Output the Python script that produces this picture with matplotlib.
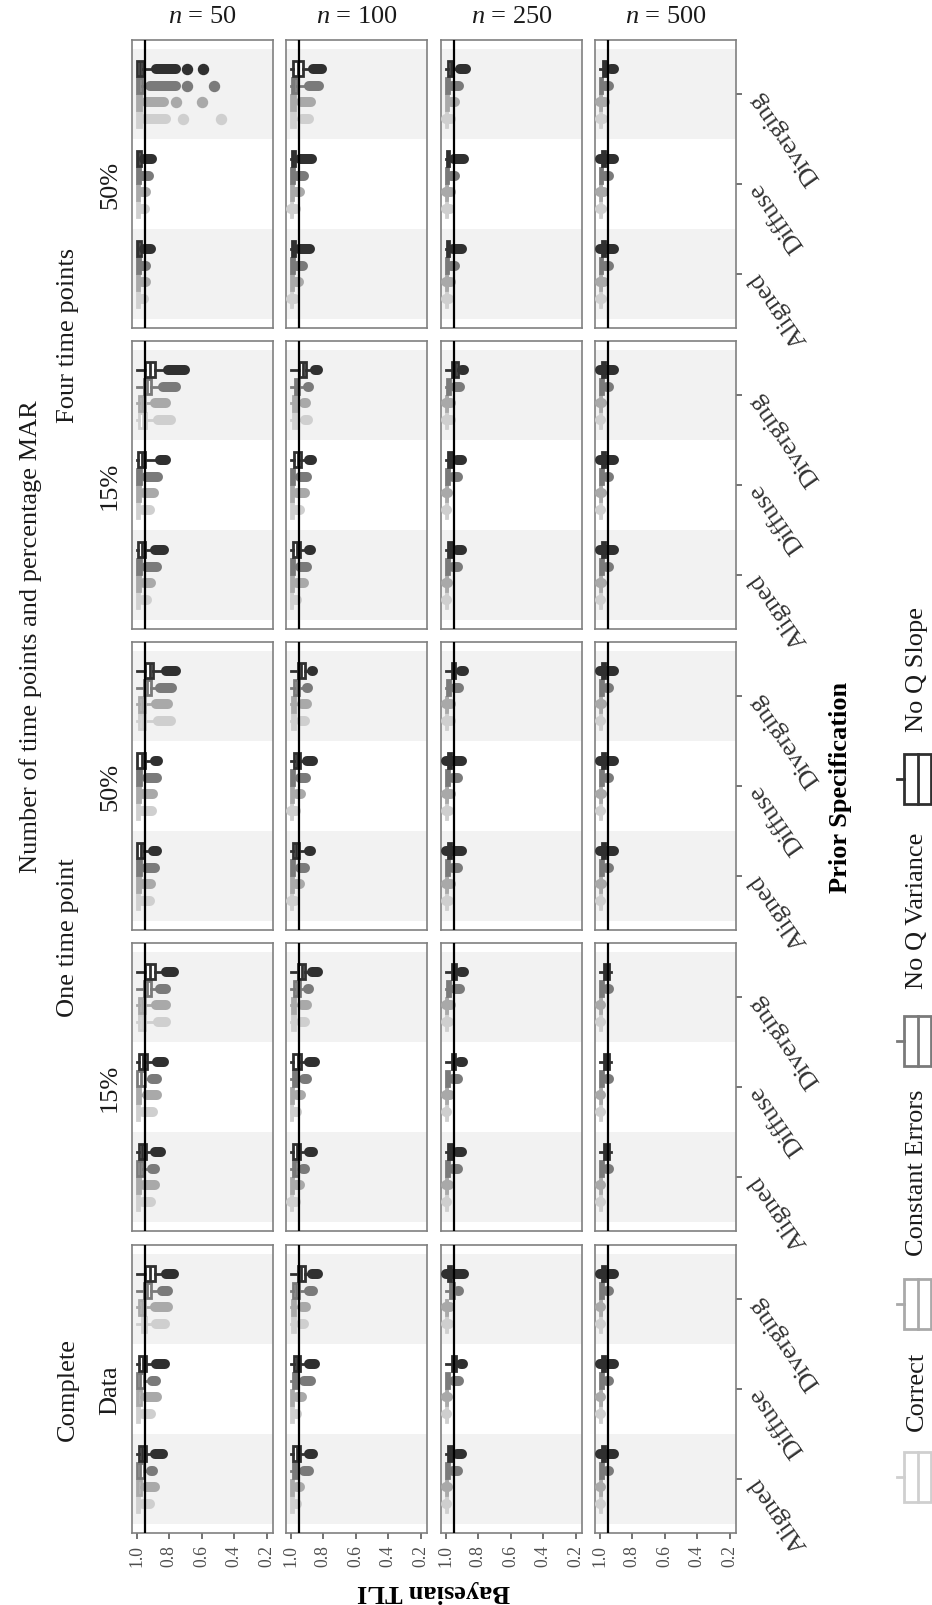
import matplotlib
matplotlib.use('Agg')
import matplotlib.pyplot as plt
from matplotlib.patches import Rectangle

plt.rcParams['font.family'] = ['Liberation Serif', 'DejaVu Serif']
plt.rcParams['mathtext.fontset'] = 'custom'
plt.rcParams['mathtext.rm'] = 'Liberation Serif'
plt.rcParams['mathtext.it'] = 'Liberation Serif:italic'

W, H = 932, 1606

# facets: rows top -> bottom, columns left -> right
CONDITIONS = ['four50', 'four15', 'one50', 'one15', 'complete']
N_VALUES = [50, 100, 250, 500]
PRIORS = ['Aligned', 'Diffuse', 'Diverging']
MODELS = ['Correct', 'Constant Errors', 'No Q Variance', 'No Q Slope']
MODEL_COLORS = ['#cfcfcf', '#a9a9a9', '#7a7a7a', '#303030']
TLI_CUTOFF = 0.95
WHISKER_TOP = 0.999
X_TICKS = [1.0, 0.8, 0.6, 0.4, 0.2]

# each box: (q3, median, q1, lower whisker, outlier run start, outlier run end)
# per panel: [Aligned, Diffuse, Diverging] x [Correct, Const Err, No Q Var, No Q Slope]
four50 = {
    50: [[(0.998, 0.994, 0.988, 0.978, 0.970, 0.955), (0.998, 0.994, 0.985, 0.975, 0.968, 0.945),
          (0.998, 0.992, 0.982, 0.972, 0.965, 0.940), (0.998, 0.990, 0.975, 0.965, 0.958, 0.910)],
         [(0.998, 0.994, 0.988, 0.978, 0.970, 0.950), (0.998, 0.994, 0.985, 0.975, 0.968, 0.945),
          (0.998, 0.992, 0.982, 0.972, 0.965, 0.927), (0.998, 0.990, 0.975, 0.965, 0.958, 0.905)],
         [(0.998, 0.988, 0.975, 0.960, 0.950, 0.820), (0.998, 0.988, 0.975, 0.955, 0.940, 0.830),
          (0.998, 0.985, 0.970, 0.935, 0.917, 0.756), (0.998, 0.980, 0.960, 0.905, 0.880, 0.756)]],
    100: [[(0.998, 0.994, 0.990, 0.985, 0.998, 0.975), (0.998, 0.994, 0.985, 0.975, 0.968, 0.946),
           (0.998, 0.992, 0.982, 0.972, 0.962, 0.924), (0.992, 0.985, 0.975, 0.965, 0.950, 0.880)],
          [(0.998, 0.994, 0.990, 0.985, 0.998, 0.970), (0.998, 0.994, 0.985, 0.975, 0.968, 0.944),
           (0.998, 0.992, 0.982, 0.972, 0.962, 0.920), (0.992, 0.985, 0.975, 0.965, 0.940, 0.870)],
          [(0.998, 0.988, 0.975, 0.960, 0.930, 0.885), (0.998, 0.986, 0.972, 0.955, 0.937, 0.873),
           (0.995, 0.980, 0.960, 0.910, 0.885, 0.825), (0.983, 0.955, 0.927, 0.875, 0.860, 0.805)]],
    250: [[(0.998, 0.994, 0.990, 0.985, 0.998, 0.980), (0.998, 0.994, 0.990, 0.985, 0.998, 0.970),
           (0.998, 0.992, 0.985, 0.975, 0.965, 0.940), (0.990, 0.985, 0.978, 0.970, 0.955, 0.900)],
          [(0.998, 0.994, 0.990, 0.985, 0.998, 0.975), (0.998, 0.994, 0.990, 0.985, 0.998, 0.970),
           (0.998, 0.992, 0.985, 0.975, 0.965, 0.940), (0.990, 0.985, 0.978, 0.970, 0.950, 0.890)],
          [(0.998, 0.994, 0.990, 0.985, 0.998, 0.970), (0.998, 0.992, 0.985, 0.975, 0.965, 0.944),
           (0.998, 0.990, 0.980, 0.970, 0.960, 0.920), (0.985, 0.970, 0.955, 0.940, 0.915, 0.876)]],
    500: [[(0.998, 0.994, 0.990, 0.985, 0.998, 0.985), (0.998, 0.994, 0.990, 0.985, 0.998, 0.975),
           (0.998, 0.992, 0.985, 0.975, 0.965, 0.945), (0.985, 0.975, 0.965, 0.955, 1.000, 0.910)],
          [(0.998, 0.994, 0.990, 0.985, 0.998, 0.985), (0.998, 0.994, 0.990, 0.985, 0.998, 0.975),
           (0.998, 0.992, 0.985, 0.975, 0.965, 0.945), (0.985, 0.975, 0.965, 0.955, 1.000, 0.910)],
          [(0.998, 0.994, 0.990, 0.985, 0.998, 0.980), (0.998, 0.994, 0.990, 0.985, 0.998, 0.970),
           (0.998, 0.992, 0.985, 0.975, 0.965, 0.940), (0.980, 0.970, 0.960, 0.950, 0.930, 0.910)]],
}

four15 = {
    50: [[(0.998, 0.994, 0.985, 0.975, 0.962, 0.935), (0.998, 0.994, 0.982, 0.970, 0.955, 0.910),
          (0.996, 0.985, 0.975, 0.962, 0.945, 0.878), (0.995, 0.970, 0.946, 0.910, 0.885, 0.834)],
         [(0.998, 0.994, 0.985, 0.975, 0.962, 0.920), (0.998, 0.994, 0.982, 0.970, 0.955, 0.895),
          (0.996, 0.985, 0.975, 0.962, 0.945, 0.870), (0.995, 0.970, 0.946, 0.885, 0.856, 0.817)],
         [(0.983, 0.960, 0.940, 0.900, 0.870, 0.790), (0.983, 0.965, 0.946, 0.905, 0.885, 0.817),
          (0.958, 0.935, 0.910, 0.860, 0.837, 0.756), (0.946, 0.920, 0.890, 0.837, 0.807, 0.700)]],
    100: [[(0.998, 0.994, 0.990, 0.982, 0.975, 0.960), (0.998, 0.994, 0.985, 0.975, 0.962, 0.920),
           (0.996, 0.988, 0.978, 0.965, 0.945, 0.900), (0.983, 0.960, 0.940, 0.900, 0.885, 0.873)],
          [(0.998, 0.994, 0.988, 0.978, 0.970, 0.940), (0.998, 0.994, 0.985, 0.975, 0.960, 0.915),
           (0.996, 0.988, 0.978, 0.965, 0.940, 0.900), (0.978, 0.955, 0.934, 0.900, 0.885, 0.870)],
          [(0.988, 0.975, 0.960, 0.930, 0.910, 0.895), (0.988, 0.975, 0.960, 0.935, 0.920, 0.907),
           (0.976, 0.960, 0.946, 0.915, 0.895, 0.885), (0.946, 0.925, 0.905, 0.870, 0.850, 0.835)]],
    250: [[(0.998, 0.995, 0.992, 0.990, 0.998, 0.990), (0.998, 0.994, 0.990, 0.985, 0.998, 0.985),
           (0.998, 0.990, 0.980, 0.970, 0.955, 0.925), (0.985, 0.972, 0.960, 0.945, 0.930, 0.900)],
          [(0.998, 0.995, 0.992, 0.990, 0.998, 0.990), (0.998, 0.994, 0.990, 0.985, 0.998, 0.985),
           (0.998, 0.990, 0.980, 0.970, 0.955, 0.925), (0.985, 0.972, 0.960, 0.945, 0.930, 0.900)],
          [(0.998, 0.994, 0.990, 0.985, 0.998, 0.970), (0.998, 0.994, 0.990, 0.985, 0.998, 0.965),
           (0.995, 0.985, 0.975, 0.960, 0.945, 0.915), (0.960, 0.945, 0.927, 0.910, 0.900, 0.890)]],
    500: [[(0.998, 0.995, 0.992, 0.990, 0.998, 0.990), (0.998, 0.994, 0.990, 0.985, 0.998, 0.985),
           (0.998, 0.990, 0.980, 0.970, 0.955, 0.940), (0.985, 0.975, 0.965, 0.955, 1.000, 0.910)],
          [(0.998, 0.995, 0.992, 0.990, 0.998, 0.990), (0.998, 0.994, 0.990, 0.985, 0.998, 0.985),
           (0.998, 0.990, 0.980, 0.970, 0.955, 0.940), (0.985, 0.975, 0.965, 0.955, 1.000, 0.910)],
          [(0.998, 0.995, 0.992, 0.990, 0.998, 0.990), (0.998, 0.994, 0.990, 0.985, 0.998, 0.985),
           (0.998, 0.990, 0.980, 0.970, 0.955, 0.940), (0.985, 0.975, 0.965, 0.955, 1.000, 0.910)]],
}

one50 = {
    50: [[(0.998, 0.994, 0.985, 0.975, 0.965, 0.920), (0.998, 0.994, 0.982, 0.970, 0.960, 0.910),
          (0.996, 0.988, 0.975, 0.962, 0.945, 0.885), (0.996, 0.975, 0.954, 0.920, 0.900, 0.875)],
         [(0.998, 0.994, 0.985, 0.975, 0.965, 0.905), (0.998, 0.994, 0.982, 0.970, 0.960, 0.900),
          (0.996, 0.988, 0.975, 0.960, 0.935, 0.873), (0.996, 0.970, 0.946, 0.910, 0.890, 0.870)],
         [(0.983, 0.965, 0.946, 0.900, 0.870, 0.790), (0.983, 0.965, 0.946, 0.905, 0.880, 0.810),
          (0.958, 0.935, 0.915, 0.870, 0.856, 0.780), (0.946, 0.920, 0.897, 0.850, 0.820, 0.756)]],
    100: [[(0.998, 0.994, 0.990, 0.985, 0.998, 0.975), (0.998, 0.994, 0.985, 0.975, 0.965, 0.940),
           (0.998, 0.990, 0.980, 0.965, 0.945, 0.914), (0.983, 0.965, 0.946, 0.910, 0.890, 0.873)],
          [(0.998, 0.994, 0.990, 0.985, 0.998, 0.970), (0.998, 0.994, 0.985, 0.975, 0.962, 0.935),
           (0.998, 0.990, 0.980, 0.965, 0.940, 0.907), (0.978, 0.960, 0.940, 0.910, 0.897, 0.865)],
          [(0.995, 0.985, 0.972, 0.955, 0.935, 0.910), (0.995, 0.985, 0.972, 0.955, 0.930, 0.900),
           (0.978, 0.962, 0.946, 0.915, 0.900, 0.895), (0.954, 0.935, 0.915, 0.885, 0.870, 0.863)]],
    250: [[(0.998, 0.994, 0.990, 0.985, 0.998, 0.980), (0.998, 0.994, 0.990, 0.985, 0.998, 0.970),
           (0.998, 0.990, 0.980, 0.970, 0.955, 0.925), (0.985, 0.975, 0.965, 0.955, 1.000, 0.900)],
          [(0.998, 0.994, 0.990, 0.985, 0.998, 0.980), (0.998, 0.994, 0.990, 0.985, 0.998, 0.970),
           (0.998, 0.990, 0.980, 0.970, 0.955, 0.925), (0.985, 0.975, 0.965, 0.955, 1.000, 0.900)],
          [(0.998, 0.994, 0.990, 0.985, 0.998, 0.970), (0.998, 0.994, 0.990, 0.985, 0.998, 0.965),
           (0.995, 0.985, 0.975, 0.960, 0.945, 0.920), (0.963, 0.952, 0.940, 0.925, 0.905, 0.890)]],
    500: [[(0.998, 0.995, 0.992, 0.990, 0.998, 0.990), (0.998, 0.994, 0.990, 0.985, 0.998, 0.985),
           (0.998, 0.990, 0.980, 0.970, 0.955, 0.945), (0.985, 0.975, 0.965, 0.955, 1.000, 0.910)],
          [(0.998, 0.995, 0.992, 0.990, 0.998, 0.990), (0.998, 0.994, 0.990, 0.985, 0.998, 0.985),
           (0.998, 0.990, 0.980, 0.970, 0.955, 0.945), (0.985, 0.975, 0.965, 0.955, 1.000, 0.910)],
          [(0.998, 0.995, 0.992, 0.990, 0.998, 0.990), (0.998, 0.994, 0.990, 0.985, 0.998, 0.985),
           (0.998, 0.990, 0.980, 0.970, 0.955, 0.945), (0.985, 0.975, 0.965, 0.955, 1.000, 0.910)]],
}

one15 = {
    50: [[(0.998, 0.994, 0.985, 0.975, 0.962, 0.915), (0.998, 0.994, 0.982, 0.970, 0.955, 0.890),
          (0.996, 0.980, 0.960, 0.930, 0.905, 0.885), (0.988, 0.965, 0.940, 0.900, 0.885, 0.850)],
         [(0.998, 0.994, 0.985, 0.975, 0.962, 0.900), (0.998, 0.994, 0.982, 0.970, 0.935, 0.878),
          (0.996, 0.975, 0.950, 0.925, 0.905, 0.873), (0.988, 0.960, 0.934, 0.905, 0.875, 0.830)],
         [(0.983, 0.965, 0.946, 0.900, 0.870, 0.817), (0.983, 0.965, 0.946, 0.905, 0.880, 0.822),
          (0.954, 0.935, 0.915, 0.870, 0.856, 0.822), (0.950, 0.920, 0.890, 0.850, 0.820, 0.770)]],
    100: [[(0.998, 0.994, 0.990, 0.985, 0.998, 0.970), (0.998, 0.994, 0.985, 0.975, 0.965, 0.940),
           (0.988, 0.972, 0.954, 0.935, 0.925, 0.915), (0.983, 0.960, 0.940, 0.905, 0.890, 0.860)],
          [(0.998, 0.994, 0.990, 0.982, 0.975, 0.960), (0.998, 0.994, 0.985, 0.975, 0.962, 0.935),
           (0.988, 0.975, 0.960, 0.935, 0.917, 0.900), (0.983, 0.958, 0.934, 0.905, 0.890, 0.850)],
          [(0.995, 0.985, 0.972, 0.955, 0.935, 0.910), (0.995, 0.985, 0.972, 0.955, 0.930, 0.900),
           (0.978, 0.960, 0.944, 0.910, 0.895, 0.885), (0.954, 0.930, 0.910, 0.880, 0.866, 0.830)]],
    250: [[(0.998, 0.995, 0.992, 0.990, 0.998, 0.990), (0.998, 0.994, 0.990, 0.985, 0.998, 0.980),
           (0.998, 0.990, 0.980, 0.970, 0.955, 0.925), (0.985, 0.972, 0.960, 0.945, 0.930, 0.900)],
          [(0.998, 0.995, 0.992, 0.990, 0.998, 0.990), (0.998, 0.994, 0.990, 0.985, 0.998, 0.975),
           (0.998, 0.990, 0.980, 0.970, 0.955, 0.925), (0.963, 0.952, 0.940, 0.925, 0.910, 0.895)],
          [(0.998, 0.994, 0.990, 0.985, 0.998, 0.980), (0.998, 0.994, 0.990, 0.985, 0.998, 0.970),
           (0.995, 0.985, 0.975, 0.960, 0.945, 0.915), (0.963, 0.950, 0.934, 0.920, 0.905, 0.890)]],
    500: [[(0.998, 0.995, 0.992, 0.990, 0.998, 0.990), (0.998, 0.995, 0.992, 0.990, 0.998, 0.990),
           (0.998, 0.990, 0.980, 0.970, 0.955, 0.940), (0.973, 0.960, 0.944, 0.930, 0.915, 0.915)],
          [(0.998, 0.995, 0.992, 0.990, 0.998, 0.990), (0.998, 0.995, 0.992, 0.990, 0.998, 0.990),
           (0.998, 0.990, 0.980, 0.970, 0.955, 0.940), (0.973, 0.960, 0.944, 0.930, 0.915, 0.915)],
          [(0.998, 0.995, 0.992, 0.990, 0.998, 0.990), (0.998, 0.995, 0.992, 0.990, 0.998, 0.990),
           (0.998, 0.990, 0.980, 0.970, 0.955, 0.940), (0.973, 0.960, 0.944, 0.930, 0.915, 0.915)]],
}

complete = {
    50: [[(0.998, 0.994, 0.985, 0.975, 0.960, 0.920), (0.998, 0.990, 0.975, 0.955, 0.940, 0.885),
          (0.996, 0.980, 0.958, 0.930, 0.910, 0.900), (0.988, 0.965, 0.940, 0.910, 0.890, 0.840)],
         [(0.998, 0.994, 0.985, 0.975, 0.960, 0.910), (0.998, 0.990, 0.975, 0.955, 0.940, 0.873),
          (0.996, 0.980, 0.958, 0.930, 0.905, 0.883), (0.983, 0.960, 0.940, 0.910, 0.880, 0.824)],
         [(0.970, 0.955, 0.940, 0.900, 0.880, 0.824), (0.983, 0.965, 0.946, 0.905, 0.885, 0.810),
          (0.954, 0.935, 0.915, 0.870, 0.844, 0.810), (0.946, 0.920, 0.890, 0.850, 0.820, 0.770)]],
    100: [[(0.998, 0.994, 0.988, 0.978, 0.970, 0.960), (0.998, 0.994, 0.985, 0.975, 0.962, 0.940),
           (0.988, 0.975, 0.960, 0.935, 0.917, 0.890), (0.983, 0.960, 0.940, 0.905, 0.890, 0.860)],
          [(0.998, 0.994, 0.988, 0.978, 0.970, 0.960), (0.998, 0.994, 0.985, 0.975, 0.960, 0.930),
           (0.988, 0.975, 0.960, 0.935, 0.917, 0.878), (0.978, 0.960, 0.940, 0.905, 0.890, 0.850)],
          [(0.995, 0.985, 0.972, 0.955, 0.935, 0.920), (0.995, 0.985, 0.972, 0.955, 0.930, 0.905),
           (0.983, 0.965, 0.946, 0.910, 0.890, 0.860), (0.958, 0.935, 0.910, 0.885, 0.870, 0.830)]],
    250: [[(0.998, 0.995, 0.992, 0.990, 0.998, 0.990), (0.998, 0.994, 0.990, 0.985, 0.998, 0.985),
           (0.998, 0.990, 0.980, 0.970, 0.955, 0.925), (0.985, 0.972, 0.960, 0.945, 0.930, 0.900)],
          [(0.998, 0.995, 0.992, 0.990, 0.998, 0.990), (0.998, 0.994, 0.990, 0.985, 0.998, 0.985),
           (0.998, 0.990, 0.980, 0.970, 0.950, 0.920), (0.963, 0.950, 0.934, 0.920, 0.905, 0.895)],
          [(0.998, 0.994, 0.990, 0.985, 0.998, 0.980), (0.998, 0.994, 0.990, 0.985, 0.998, 0.975),
           (0.976, 0.963, 0.950, 0.935, 0.925, 0.920), (0.985, 0.975, 0.965, 0.955, 1.000, 0.890)]],
    500: [[(0.998, 0.996, 0.994, 0.992, 0.998, 0.995), (0.998, 0.995, 0.992, 0.990, 0.998, 0.990),
           (0.998, 0.990, 0.980, 0.970, 0.955, 0.940), (0.985, 0.975, 0.965, 0.955, 1.000, 0.910)],
          [(0.998, 0.996, 0.994, 0.992, 0.998, 0.995), (0.998, 0.995, 0.992, 0.990, 0.998, 0.990),
           (0.998, 0.990, 0.980, 0.970, 0.955, 0.940), (0.985, 0.975, 0.965, 0.955, 1.000, 0.910)],
          [(0.998, 0.996, 0.994, 0.992, 0.998, 0.995), (0.998, 0.995, 0.992, 0.990, 0.998, 0.990),
           (0.998, 0.990, 0.980, 0.970, 0.955, 0.940), (0.985, 0.975, 0.965, 0.955, 1.000, 0.910)]],
}

STATS = {'four50': four50, 'four15': four15, 'one50': one50, 'one15': one15, 'complete': complete}

# isolated far outliers (four time points, 50% MAR, n = 50, Diverging)
EXTRA_OUTLIERS = {
    ('four50', 50, 'Diverging', 'Correct'): [0.715, 0.483],
    ('four50', 50, 'Diverging', 'Constant Errors'): [0.760, 0.600],
    ('four50', 50, 'Diverging', 'No Q Variance'): [0.690, 0.525],
    ('four50', 50, 'Diverging', 'No Q Slope'): [0.690, 0.590],
}

ROW_LABELS = ['50%', '15%', '50%', '15%', 'Data']
GROUP_LABELS = [('Four time points', 0, 1), ('One time point', 2, 3), ('Complete', 4, 4)]
OUTER_LABEL = ('Number of time points and percentage MAR', 0, 3)

# layout, in pixels from top-left
PANEL_LEFT = [132, 286, 441, 595]
PANEL_TOP = [41, 342, 643, 944, 1246]
PANEL_W, PANEL_H = 141, 288
DODGE = [-0.28125, -0.09375, 0.09375, 0.28125]
DOT = 7.2   # point size of the outlier dots
LW = 2.0


def fx(x):
    return x / W


def fy(y):
    return 1 - y / H


fig = plt.figure(figsize=(W / 100, H / 100), dpi=100)

# overlay in pixel coordinates for the strips, titles and legend
ov = fig.add_axes([0, 0, 1, 1])
ov.set_xlim(0, W)
ov.set_ylim(H, 0)
ov.axis('off')

txt = dict(fontsize=19, color='#1a1a1a')

for r, cond in enumerate(CONDITIONS):
    for c, n in enumerate(N_VALUES):
        left, top = PANEL_LEFT[c], PANEL_TOP[r]
        ax = fig.add_axes([fx(left), fy(top + PANEL_H), PANEL_W / W, PANEL_H / H])
        ax.set_xlim(1.029, 0.161)
        ax.set_ylim(0.4, 3.6)
        for k in (0, 2):
            ax.axhspan(k + 0.5, k + 1.5, color='#f2f2f2', lw=0, zorder=0)
        for p, prior in enumerate(PRIORS):
            for m, model in enumerate(MODELS):
                q3, med, q1, wlo, o_hi, o_lo = STATS[cond][n][p][m]
                col = MODEL_COLORS[m]
                y = p + 1 + DODGE[m]
                stat = dict(med=med, q1=q1, q3=q3, whislo=wlo, whishi=max(WHISKER_TOP, q3),
                            fliers=EXTRA_OUTLIERS.get((cond, n, prior, model), []))
                ax.bxp([stat], positions=[y], widths=0.17, orientation='horizontal',
                       patch_artist=True, showcaps=False, manage_ticks=False,
                       boxprops=dict(facecolor='white', edgecolor=col, linewidth=LW),
                       whiskerprops=dict(color=col, linewidth=LW),
                       medianprops=dict(color=col, linewidth=LW),
                       flierprops=dict(marker='o', markerfacecolor=col, markeredgecolor=col,
                                       markersize=DOT))
                ax.plot([o_hi, o_lo], [y, y], color=col, lw=DOT, solid_capstyle='round', zorder=3)
        ax.axvline(TLI_CUTOFF, color='black', lw=1.6, zorder=5)

        for s in ax.spines.values():
            s.set_color('#808080')
            s.set_linewidth(1.2)

        if r == len(CONDITIONS) - 1:
            ax.set_xticks(X_TICKS)
            ax.set_xticklabels(['%.1f' % v for v in X_TICKS], rotation=90)
            ax.tick_params(axis='x', length=4, width=1.1, color='#4d4d4d', labelsize=12.7,
                           labelcolor='#4d4d4d', pad=4)
        else:
            ax.set_xticks([])

        if c == len(N_VALUES) - 1:
            ax.yaxis.tick_right()
            ax.set_yticks([1, 2, 3])
            ax.set_yticklabels(PRIORS)
            ax.tick_params(axis='y', length=4, width=1.1, color='#4d4d4d', labelsize=19,
                           labelcolor='#333333', pad=9)
            for lab in ax.get_yticklabels():
                lab.set_rotation(125)
                lab.set_rotation_mode('anchor')
                lab.set_ha('right')
                lab.set_va('center')
        else:
            ax.set_yticks([])

# column strips (sample size)
for c, n in enumerate(N_VALUES):
    ov.text(PANEL_LEFT[c] + PANEL_W / 2, 17, '$n$ = %d' % n, ha='center', va='center', **txt)

# row strips (nested)
for r in range(len(CONDITIONS)):
    ov.text(110, PANEL_TOP[r] + PANEL_H / 2, ROW_LABELS[r], rotation=90,
            ha='center', va='center', **txt)
for label, r0, r1 in GROUP_LABELS:
    yc = (PANEL_TOP[r0] + PANEL_TOP[r1] + PANEL_H) / 2
    ov.text(68, yc, label, rotation=90, ha='center', va='center', **txt)
label, r0, r1 = OUTER_LABEL
ov.text(31, (PANEL_TOP[r0] + PANEL_TOP[r1] + PANEL_H) / 2, label, rotation=90,
        ha='center', va='center', **txt)

# axis titles
ov.text((PANEL_LEFT[0] + PANEL_LEFT[-1] + PANEL_W) / 2, 1592, 'Bayesian TLI', rotation=180,
        ha='center', va='center', fontweight='bold', fontsize=19, color='black')
ov.text(840, (PANEL_TOP[0] + PANEL_TOP[-1] + PANEL_H) / 2, 'Prior Specification', rotation=90,
        ha='center', va='center', fontweight='bold', fontsize=19, color='black')

# legend (keys and labels run bottom -> top)
KEY_Y = [1478, 1305, 1042, 780]
LABEL_Y = [1391, 1173, 911, 670]
for m, model in enumerate(MODELS):
    col = MODEL_COLORS[m]
    yk = KEY_Y[m]
    ov.add_patch(Rectangle((904, yk - 25), 27, 50, facecolor='white', edgecolor=col,
                           lw=LW, clip_on=False))
    ov.plot([917.5, 917.5], [yk - 25, yk + 25], color=col, lw=LW, clip_on=False)
    ov.plot([897, 904], [yk, yk], color=col, lw=LW, clip_on=False)
    ov.text(917, LABEL_Y[m], model, rotation=90, ha='center', va='center', **txt)

fig.savefig('out.png', dpi=100)
